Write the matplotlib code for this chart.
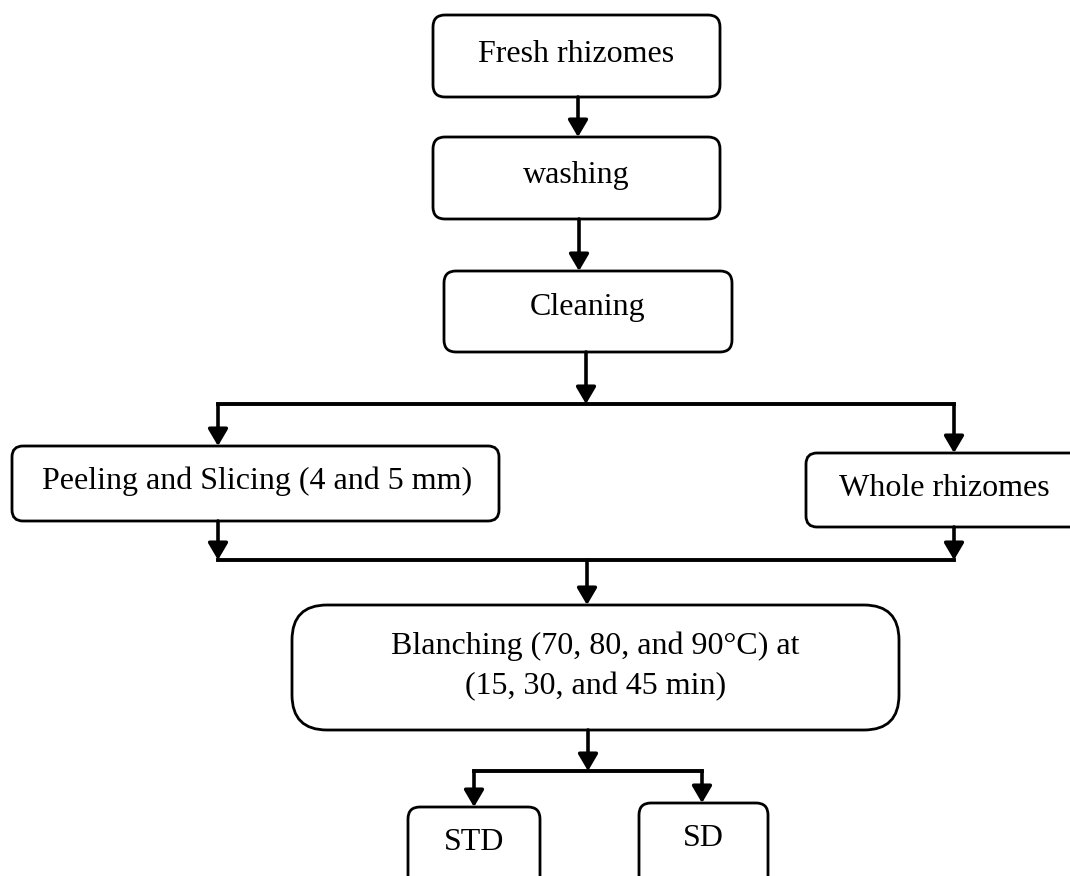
import matplotlib.pyplot as plt
from matplotlib.patches import FancyBboxPatch

# box labels, top to bottom
labels = ['Fresh rhizomes', 'washing', 'Cleaning',
          'Peeling and Slicing (4 and 5 mm)', 'Whole rhizomes',
          'Blanching (70, 80, and 90\u00b0C) at\n(15, 30, and 45 min)',
          'STD', 'SD']

# layout in pixel coords (x0, y0, x1, y1, corner radius, text y)
boxes = {
    'Fresh rhizomes': (433, 15, 720, 97, 12, 54),
    'washing': (433, 137, 720, 219, 12, 175),
    'Cleaning': (444, 271, 732, 352, 12, 308),
    'Peeling and Slicing (4 and 5 mm)': (12, 446, 499, 521, 11, 481),
    'Whole rhizomes': (806, 453, 1090, 527, 11, 488),
    'Blanching (70, 80, and 90\u00b0C) at\n(15, 30, and 45 min)': (292, 605, 899, 730, 35, 666),
    'STD': (408, 807, 540, 905, 12, 842),
    'SD': (639, 803, 768, 905, 12, 838),
}
text_x = {'Peeling and Slicing (4 and 5 mm)': 257, 'Whole rhizomes': 944,
          'STD': 474, 'SD': 703}

# arrows (x, y_start, y_end) and plain connector lines
arrows = [(578, 97, 137), (579, 219, 271), (586, 352, 404),
          (218, 404, 446), (954, 404, 453),
          (218, 521, 560), (954, 527, 560),
          (587, 560, 605), (588, 730, 771),
          (474, 771, 807), (702, 771, 803)]
lines = [((218, 954), (404, 404)), ((218, 954), (560, 560)),
         ((474, 702), (771, 771))]

fig = plt.figure(figsize=(10.7, 8.76), dpi=100)
ax = fig.add_axes([0, 0, 1, 1])
ax.set_xlim(0, 1070)
ax.set_ylim(876, 0)
ax.axis('off')

for name in labels:
    x0, y0, x1, y1, r, ty = boxes[name]
    ax.add_patch(FancyBboxPatch((x0, y0), x1 - x0, y1 - y0,
                                boxstyle=f'round,pad=0,rounding_size={r}',
                                fc='white', ec='black', lw=2.0))
    tx = text_x.get(name, (x0 + x1) / 2)
    ax.text(tx, ty, name, ha='center', va='center', fontsize=23,
            family='Liberation Serif', linespacing=1.5)

for xs, ys in lines:
    ax.plot(xs, ys, color='black', lw=2.8, solid_capstyle='projecting')

for x, ya, yb in arrows:
    ax.annotate('', xy=(x, yb), xytext=(x, ya),
                arrowprops=dict(arrowstyle='-|>,head_length=0.85,head_width=0.5',
                                mutation_scale=12, lw=2.6, color='black',
                                shrinkA=0, shrinkB=0))

fig.savefig('out.png', dpi=100)
